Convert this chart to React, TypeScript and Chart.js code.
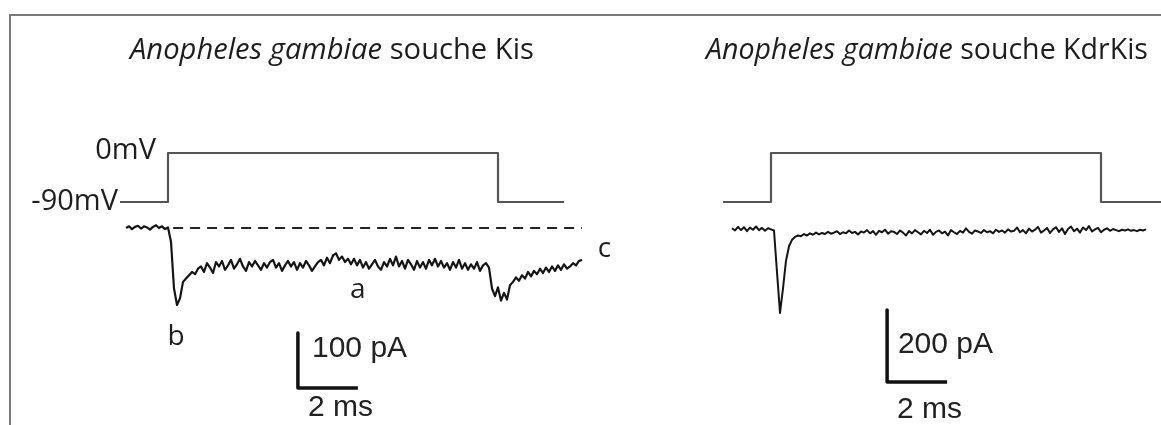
import React, { useEffect, useRef } from "react";
import { Chart, registerables } from "chart.js";

Chart.register(...registerables);

// ---------- data (time in ms, voltage in mV, current in pA) ----------
const voltageTimesLeft = [-1.6, 0, 0, 11, 11, 13.2];
const voltageTimesRight = [-1.6, 0, 0, 11, 11, 13.1];
const voltageLevels = [-90, -90, 0, 0, -90, -90];

const currentStartLeft = -1.4;
const currentStartRight = -1.3;
const sampleStep = 0.1;

const currentLeft = [
  0, 3, -2, 2, 4, -1, 3, 1, -3, 2, 5, 0, 3, -2, 1,
  -25, -110, -140, -128, -98, -92, -86, -80, -84, -74,
  -70, -80, -64, -72, -82, -62, -70, -60, -76, -68,
  -58, -74, -66, -56, -70, -78, -62, -70, -60, -68,
  -76, -64, -72, -62, -58, -72, -64, -78, -68, -60,
  -70, -62, -76, -64, -72, -60, -68, -78, -70, -62,
  -58, -68, -54, -64, -50, -46, -58, -52, -62, -56,
  -66, -56, -68, -58, -72, -62, -74, -66, -58, -70,
  -76, -62, -70, -56, -68, -52, -70, -60, -74, -58,
  -66, -76, -60, -72, -62, -74, -58, -68, -56, -70,
  -60, -72, -64, -76, -62, -72, -58, -74, -64, -76,
  -66, -74, -62, -78, -68, -64, -72,
  -110, -124, -108, -132, -118, -130, -104, -98, -90, -96,
  -86, -92, -80, -88, -78, -84, -74, -82, -72, -80,
  -70, -78, -68, -76, -66, -74, -70, -64, -68, -60, -58,
];

const currentRight = [
  2, -4, 6, -3, 5, -6, 4, -2, 7, -3,
  3, -5, 2, -1,
  -4,
  -120, -233, -165, -88, -48, -30, -22, -18, -20,
  -14, -18, -12, -16, -10, -15, -11, -14, -8, -13,
  -10, -6, -14, -9, -12, -4, -11, -8, -15, -7,
  -10, -3, -12, -6, -16, -5, -9, -2, -13, -6,
  -8, -14, -4, -10, -18, -6, -12, -3, -9, -15,
  -5, -11, -2, -16, -8, -4, -12, -7, -18, -3,
  -9, -14, -5, -10, 2, -8, -13, -4, -7, -11,
  -3, -9, -6, -12, -2, -8, -4, -10, -1, -7,
  -5, 4, -9, -3, -12, 1, -7, -2, 6, -10,
  -4, 3, -11, -1, 5, -8, 2, -14, 0, 7,
  -6, 1, -10, 4, -3, 8, -7, -1, 3, -9,
  -2, 2, -5, 0, -3, -6, -2, -4, -1, -5,
  -3, -6, -2, -4, -1,
];

const dashedTimesLeft = [0.17, 13.8];
const dashedLevelLeft = [0, 0];

// scale bars: time origin, current origin, time length, current length
const scaleBarLeft = { t: 4.33, i: -291, dt: 2, di: 100 };
const scaleBarRight = { t: 3.87, i: -425, dt: 2, di: 200 };

const titleLeft = ["Anopheles gambiae", " souche Kis"];
const titleRight = ["Anopheles gambiae", " souche KdrKis"];
const voltageLabels = ["0mV", "-90mV"];
const scaleLabelsLeft = ["100 pA", "2 ms"];
const scaleLabelsRight = ["200 pA", "2 ms"];

// ---------- helpers ----------
const toPoints = (xs: number[], ys: number[]) => xs.map((x, k) => ({ x, y: ys[k] }));
const sampled = (start: number, vals: number[]) =>
  vals.map((y, k) => ({ x: Math.round((start + k * sampleStep) * 100) / 100, y }));
const barPoints = (b: { t: number; i: number; dt: number; di: number }) => [
  { x: b.t, y: b.i + b.di },
  { x: b.t, y: b.i },
  { x: b.t + b.dt, y: b.i },
];

const W = 1161;
const H = 425;

const textPlugin = {
  id: "figureText",
  afterDraw(chart: any) {
    const ctx = chart.ctx as CanvasRenderingContext2D;
    const s = chart.scales;
    ctx.save();

    // frame
    ctx.strokeStyle = "#7a7a7a";
    ctx.lineWidth = 2;
    ctx.beginPath();
    ctx.moveTo(10, H);
    ctx.lineTo(10, 15);
    ctx.lineTo(W, 15);
    ctx.stroke();

    // titles
    const drawTitle = (parts: string[], cx: number, baseline: number, target: number) => {
      ctx.font = `italic 100px "Open Sans"`;
      const a = ctx.measureText(parts[0]).width;
      ctx.font = `100px "Open Sans"`;
      const b = ctx.measureText(parts[1]).width;
      const size = (100 * target) / (a + b);
      const w1 = (a * size) / 100;
      const x0 = cx - target / 2;
      ctx.fillStyle = "#1e1e1e";
      ctx.textBaseline = "alphabetic";
      ctx.textAlign = "left";
      ctx.font = `italic ${size}px "Open Sans"`;
      ctx.fillText(parts[0], x0, baseline);
      ctx.font = `${size}px "Open Sans"`;
      ctx.fillText(parts[1], x0 + w1, baseline);
    };
    drawTitle(titleLeft, 332, 59, 404);
    drawTitle(titleRight, 927, 59, 442);

    ctx.fillStyle = "#1e1e1e";
    ctx.textBaseline = "middle";

    // voltage labels
    ctx.font = `29px "Open Sans"`;
    ctx.textAlign = "right";
    ctx.fillText(voltageLabels[0], s.xL.getPixelForValue(-0.4), s.v.getPixelForValue(0) - 2);
    ctx.fillText(voltageLabels[1], s.xL.getPixelForValue(-1.6) - 2, s.v.getPixelForValue(-90));

    // letters
    ctx.font = `28px "Open Sans"`;
    ctx.textAlign = "center";
    ctx.fillText("a", s.xL.getPixelForValue(6.33), s.iL.getPixelForValue(-112));
    ctx.fillText("b", s.xL.getPixelForValue(0.27), s.iL.getPixelForValue(-198));
    ctx.fillText("c", s.xL.getPixelForValue(14.55), s.iL.getPixelForValue(-38));

    // scale bar labels
    ctx.fillStyle = "#222222";
    ctx.font = `30px "Liberation Sans", Arial, sans-serif`;
    ctx.textAlign = "left";
    ctx.fillText(scaleLabelsLeft[0], s.xL.getPixelForValue(4.8), s.iL.getPixelForValue(-220));
    ctx.fillText(scaleLabelsLeft[1], s.xL.getPixelForValue(4.67), s.iL.getPixelForValue(-327));
    ctx.fillText(scaleLabelsRight[0], s.xR.getPixelForValue(4.23), s.iR.getPixelForValue(-322));
    ctx.fillText(scaleLabelsRight[1], s.xR.getPixelForValue(4.2), s.iR.getPixelForValue(-503));

    ctx.restore();
  },
};

export default function App() {
  const ref = useRef<HTMLCanvasElement | null>(null);

  useEffect(() => {
    if (!ref.current) return;
    const line = (data: any[], xAxisID: string, yAxisID: string, color: string, width: number, dash: number[] = []) => ({
      data,
      xAxisID,
      yAxisID,
      showLine: true,
      borderColor: color,
      borderWidth: width,
      borderDash: dash,
      pointRadius: 0,
      pointHoverRadius: 0,
      tension: 0,
      fill: false,
      clip: false,
      borderJoinStyle: "round" as const,
    });

    const chart = new Chart(ref.current, {
      type: "scatter",
      data: {
        datasets: [
          line(toPoints(voltageTimesLeft, voltageLevels), "xL", "v", "#555555", 2.2),
          line(toPoints(voltageTimesRight, voltageLevels), "xR", "v", "#555555", 2.2),
          line(toPoints(dashedTimesLeft, dashedLevelLeft), "xL", "iL", "#222222", 2, [10, 7]),
          line(sampled(currentStartLeft, currentLeft), "xL", "iL", "#151515", 2.2),
          line(sampled(currentStartRight, currentRight), "xR", "iR", "#151515", 2),
          line(barPoints(scaleBarLeft), "xL", "iL", "#111111", 3.5),
          line(barPoints(scaleBarRight), "xR", "iR", "#111111", 3.5),
        ] as any,
      },
      options: {
        animation: false,
        responsive: false,
        devicePixelRatio: 1,
        layout: { padding: 0 },
        plugins: { legend: { display: false }, tooltip: { enabled: false }, title: { display: false } },
        events: [],
        scales: {
          xL: { type: "linear", display: false, min: -5.6, max: 33.1 },
          xR: { type: "linear", display: false, min: -25.7, max: 13.0 },
          v: { type: "linear", display: false, min: -499.6, max: 281 },
          iL: { type: "linear", display: false, min: -358.2, max: 414.5 },
          iR: { type: "linear", display: false, min: -544.4, max: 636.1 },
        },
      },
      plugins: [textPlugin],
    });
    return () => chart.destroy();
  }, []);

  return (
    <div style={{ position: "absolute", left: 0, top: 0, width: W, height: H, background: "#fff" }}>
      <canvas ref={ref} width={W} height={H} style={{ display: "block", width: W, height: H }} />
    </div>
  );
}
